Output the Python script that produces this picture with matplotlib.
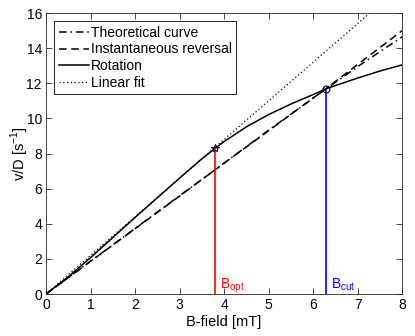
import numpy as np
from matplotlib import pyplot as plt

plt.rcParams['font.family'] = ['Liberation Sans', 'DejaVu Sans']
plt.rcParams['mathtext.fontset'] = 'custom'
plt.rcParams['mathtext.rm'] = 'Liberation Sans'

# data
x_theo = [0, 1, 2, 3, 3.8, 5, 6.3, 7, 8]
y_theo = [0, 1.87, 3.73, 5.6, 7.08, 9.33, 11.7, 12.95, 14.65]

x_inst = [0, 1, 2, 3, 3.8, 5, 6.3, 7, 8]
y_inst = [0, 1.86, 3.72, 5.58, 7.08, 9.3, 11.72, 13.07, 15.0]

x_rot = [0, 0.5, 1, 1.5, 2, 2.5, 3, 3.5, 3.8, 4, 4.5, 5, 5.5, 6, 6.3, 7, 7.5, 8]
y_rot = [0, 0.98, 2.07, 3.22, 4.36, 5.48, 6.6, 7.7, 8.3, 8.68, 9.52, 10.22, 10.82, 11.36, 11.7, 12.3, 12.7, 13.05]

fit_slope = 2.2
x_fit = [0, 8]

b_opt, v_opt = 3.8, 8.3
b_cut, v_cut = 6.3, 11.7

fig = plt.figure(figsize=(4.15, 3.36), dpi=100)
ax = fig.add_axes([0.111, 0.125, 0.858, 0.836])

ax.plot(x_theo, y_theo, color='k', ls=(0, (5, 2.5, 1, 2.5)), lw=1.1, label='Theoretical curve')
ax.plot(x_inst, y_inst, color='k', ls=(0, (5, 3)), lw=1.1, label='Instantaneous reversal')
ax.plot(x_rot, y_rot, color='k', ls='-', lw=1.1, label='Rotation')
ax.plot(x_fit, [fit_slope * v for v in x_fit], color='k', ls=(0, (1, 2)), lw=0.9, label='Linear fit')

ax.plot([b_opt, b_opt], [0, v_opt], color='r', lw=1.2)
ax.plot([b_cut, b_cut], [0, v_cut], color='b', lw=1.2)
ax.plot(b_opt, v_opt, marker='*', color='k', ms=6, mfc='none', mew=0.8)
ax.plot(b_cut, v_cut, marker='o', color='k', ms=5, mfc='none', mew=0.8)

ax.text(b_opt + 0.1, 0.3, r'B$_{\mathregular{opt}}$', color='r', fontsize=10)
ax.text(b_cut + 0.1, 0.3, r'B$_{\mathregular{cut}}$', color='b', fontsize=10)

ax.set_xlim(0, 8)
ax.set_ylim(0, 16)
ax.set_xticks(range(0, 9))
ax.set_yticks(range(0, 17, 2))
ax.tick_params(direction='in', top=True, right=True, labelsize=10, length=4, width=0.6,
               colors='#262626', labelcolor='k', pad=3)
for s in ax.spines.values():
    s.set_linewidth(0.6)
    s.set_color('#262626')

ax.set_xlabel('B-field [mT]', fontsize=10.5, va='center')
ax.xaxis.set_label_coords(0.5, -0.1)
ax.set_ylabel(r'v/D [s$^{\mathregular{-1}}$]', fontsize=10.5, va='center')
ax.yaxis.set_label_coords(-0.075, 0.5)

leg = ax.legend(loc='upper left', fontsize=10, fancybox=False, edgecolor='k',
                handlelength=2.2, handletextpad=0.1, borderpad=0.3, labelspacing=0.2,
                borderaxespad=0.6, framealpha=1)
leg.get_frame().set_linewidth(0.6)

plt.savefig('out.png', dpi=100)
